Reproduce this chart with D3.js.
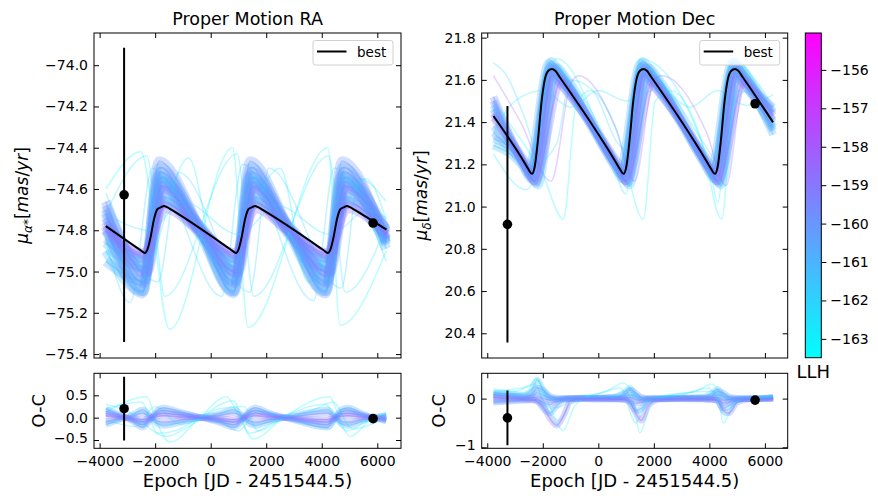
<!DOCTYPE html>
<html>
<head>
<meta charset="utf-8">
<script src="https://cdn.jsdelivr.net/npm/d3@7"></script>
<style>
  body { margin: 0; background: #fff; }
  svg { font-family: "DejaVu Sans", sans-serif; }
</style>
</head>
<body>
<div id="chart"></div>
<script>
// ---------------- data ----------------
const xTicks = [-4000, -2000, 0, 2000, 4000, 6000];
const raTicks = [-75.4, -75.2, -75.0, -74.8, -74.6, -74.4, -74.2, -74.0];
const decTicks = [20.4, 20.6, 20.8, 21.0, 21.2, 21.4, 21.6, 21.8];
const raResTicks = [-0.5, 0.0, 0.5];
const decResTicks = [-1, 0];
const llhTicks = [-163, -162, -161, -160, -159, -158, -157, -156];
const llhRange = [-163.49, -155.04];

// measured proper motions (epoch, value, error) and their O-C
const raObsEpoch = [-3119, 5849];
const raObs = [-74.628, -74.765];
const raObsErr = [0.713, 0.004];
const raObsRes = [0.20, -0.022];
const decObsEpoch = [-3273, 5647];
const decObs = [20.916, 21.487];
const decObsErr = [0.56, 0.004];
const decObsRes = [-0.395, -0.03];

// best fit orbit, [epoch, value]
const raBest = [[-3777,-74.78],[-2650,-74.885],[-2470,-74.902],[-2370,-74.91],[-2270,-74.89],[-2160,-74.83],[-2040,-74.745],[-1920,-74.698],[-1780,-74.688],[-1680,-74.682],[-1570,-74.688],[-1420,-74.70],
  [630,-74.885],[810,-74.902],[910,-74.91],[1010,-74.89],[1120,-74.83],[1240,-74.745],[1360,-74.698],[1500,-74.688],[1600,-74.682],[1710,-74.688],[1860,-74.70],
  [3940,-74.885],[4120,-74.902],[4220,-74.91],[4320,-74.89],[4430,-74.83],[4550,-74.745],[4670,-74.698],[4810,-74.688],[4910,-74.682],[5020,-74.688],[5170,-74.70],
  [6331,-74.797]];
const decBest = [[-3777,21.429],[-2690,21.215],[-2510,21.175],[-2390,21.155],[-2290,21.19],[-2170,21.32],[-2050,21.49],[-1930,21.60],[-1800,21.643],[-1670,21.652],[-1550,21.643],[-1400,21.615],
  [610,21.215],[790,21.175],[910,21.155],[1010,21.19],[1130,21.32],[1250,21.49],[1370,21.60],[1500,21.643],[1630,21.652],[1750,21.643],[1900,21.615],
  [3900,21.215],[4080,21.175],[4200,21.155],[4300,21.19],[4420,21.32],[4540,21.49],[4660,21.60],[4790,21.643],[4920,21.652],[5040,21.643],[5190,21.615],
  [6295,21.399]];

// posterior orbit samples, RA
const raCoreLLH = [-160.6, -159.8, -161.0, -159.3, -160.2, -161.2, -159.0, -161.4, -160.4, -160.8, -159.6, -160.9, -160.0, -158.6];
const raCore = [
  [[-3777,-74.72],[-2430,-75.096],[-1840,-74.496],[-400,-74.796],[850,-75.096],[1440,-74.496],[2800,-74.796],[4160,-75.096],[4750,-74.496],[6320,-74.86]],
  [[-3777,-74.70],[-2410,-75.056],[-1810,-74.516],[-400,-74.786],[870,-75.056],[1470,-74.516],[2800,-74.786],[4180,-75.056],[4780,-74.516],[6320,-74.84]],
  [[-3777,-74.80],[-2450,-75.046],[-1800,-74.566],[-400,-74.806],[830,-75.046],[1480,-74.566],[2800,-74.806],[4140,-75.046],[4790,-74.566],[6320,-74.86]],
  [[-3777,-74.76],[-2390,-75.006],[-1780,-74.586],[-400,-74.796],[890,-75.006],[1500,-74.586],[2800,-74.796],[4200,-75.006],[4810,-74.586],[6320,-74.84]],
  [[-3777,-74.74],[-2370,-74.956],[-1740,-74.596],[-400,-74.776],[910,-74.956],[1540,-74.596],[2800,-74.776],[4220,-74.956],[4850,-74.596],[6320,-74.81]],
  [[-3777,-74.86],[-2470,-74.976],[-1760,-74.656],[-400,-74.816],[810,-74.976],[1520,-74.656],[2800,-74.816],[4120,-74.976],[4830,-74.656],[6320,-74.85]],
  [[-3777,-74.80],[-2350,-74.926],[-1700,-74.666],[-400,-74.796],[930,-74.926],[1580,-74.666],[2800,-74.796],[4240,-74.926],[4890,-74.666],[6320,-74.82]],
  [[-3777,-74.90],[-2490,-75.096],[-1880,-74.536],[-400,-74.816],[790,-75.096],[1400,-74.536],[2800,-74.816],[4100,-75.096],[4710,-74.536],[6320,-74.89]],
  [[-3777,-74.68],[-2330,-75.001],[-1720,-74.561],[-400,-74.781],[950,-75.001],[1560,-74.561],[2800,-74.781],[4260,-75.001],[4870,-74.561],[6320,-74.80]],
  [[-3777,-74.95],[-2400,-75.046],[-1830,-74.546],[-400,-74.796],[880,-75.046],[1450,-74.546],[2800,-74.796],[4190,-75.046],[4760,-74.546],[6320,-74.85]],
  [[-3777,-74.66],[-2310,-75.006],[-1680,-74.606],[-400,-74.806],[970,-75.006],[1600,-74.606],[2800,-74.806],[4280,-75.006],[4910,-74.606],[6320,-74.80]],
  [[-3777,-74.84],[-2430,-74.936],[-1730,-74.636],[-400,-74.786],[850,-74.936],[1550,-74.636],[2800,-74.786],[4160,-74.936],[4860,-74.636],[6320,-74.79]],
  [[-3777,-74.78],[-2460,-75.106],[-1860,-74.466],[-400,-74.786],[820,-75.106],[1420,-74.466],[2800,-74.786],[4130,-75.106],[4730,-74.466],[6320,-74.87]],
  [[-3777,-74.78],[-2370,-74.912],[-1680,-74.692],[-400,-74.801],[910,-74.912],[1600,-74.692],[2800,-74.801],[4220,-74.912],[4910,-74.692],[6320,-74.82]]
];
const raOutLLH = [-163.3, -162.7, -162.2, -162.0, -162.5, -162.9];
const raOut = [
  [[-3777,-74.60],[-2520,-74.42],[-1480,-75.28],[780,-74.40],[1350,-75.27],[4220,-74.40],[4660,-75.26],[6320,-74.90]],
  [[-3777,-74.72],[-2300,-74.44],[-1650,-75.12],[950,-74.43],[1550,-75.12],[4250,-74.44],[4850,-75.10],[6320,-74.78]],
  [[-3777,-74.85],[-2900,-75.15],[-2100,-74.50],[400,-75.12],[1150,-74.48],[3700,-75.14],[4450,-74.50],[6320,-74.95]],
  [[-3777,-74.62],[-1900,-75.05],[-1150,-74.52],[1400,-75.10],[2100,-74.50],[4700,-75.08],[5350,-74.55],[6320,-74.66]],
  [[-3777,-74.72],[-2200,-74.80],[-1000,-74.66],[1000,-74.82],[2400,-74.68],[4300,-74.82],[5700,-74.70],[6320,-74.74]],
  [[-3777,-74.90],[-2450,-75.00],[-800,-74.45],[300,-75.00],[2500,-74.50],[3500,-75.05],[5600,-74.55],[6320,-74.75]]
];

// posterior orbit samples, Dec
const decCoreLLH = [-160.1, -160.7, -159.4, -161.1, -159.8, -159.2, -161.3, -161.6, -158.8, -160.4];
const decCore = [
  [[-3777,21.46],[-2690,21.20],[-2390,21.14],[-1670,21.67],[-1370,21.625],[610,21.20],[910,21.14],[1630,21.67],[1930,21.625],[3900,21.20],[4200,21.14],[4920,21.67],[5220,21.625],[6295,21.40]],
  [[-3777,21.38],[-2770,21.23],[-2470,21.17],[-1730,21.64],[-1430,21.595],[530,21.23],[830,21.17],[1570,21.64],[1870,21.595],[3820,21.23],[4120,21.17],[4860,21.64],[5160,21.595],[6295,21.37]],
  [[-3777,21.50],[-2610,21.18],[-2310,21.12],[-1610,21.66],[-1310,21.615],[690,21.18],[990,21.12],[1690,21.66],[1990,21.615],[3980,21.18],[4280,21.12],[4980,21.66],[5280,21.615],[6295,21.44]],
  [[-3777,21.32],[-2840,21.24],[-2540,21.18],[-1790,21.68],[-1490,21.635],[460,21.24],[760,21.18],[1510,21.68],[1810,21.635],[3750,21.24],[4050,21.18],[4800,21.68],[5100,21.635],[6295,21.34]],
  [[-3777,21.52],[-2540,21.17],[-2240,21.11],[-1550,21.63],[-1250,21.585],[760,21.17],[1060,21.11],[1750,21.63],[2050,21.585],[4050,21.17],[4350,21.11],[5040,21.63],[5340,21.585],[6295,21.47]],
  [[-3777,21.42],[-2650,21.22],[-2350,21.16],[-1650,21.62],[-1350,21.575],[650,21.22],[950,21.16],[1650,21.62],[1950,21.575],[3940,21.22],[4240,21.16],[4940,21.62],[5240,21.575],[6295,21.41]],
  [[-3777,21.29],[-2730,21.19],[-2430,21.13],[-1700,21.69],[-1400,21.645],[570,21.19],[870,21.13],[1600,21.69],[1900,21.645],[3860,21.19],[4160,21.13],[4890,21.69],[5190,21.645],[6295,21.38]],
  [[-3777,21.48],[-2470,21.16],[-2170,21.10],[-1470,21.66],[-1170,21.615],[830,21.16],[1130,21.10],[1830,21.66],[2130,21.615],[4120,21.16],[4420,21.10],[5120,21.66],[5420,21.615],[6295,21.45]],
  [[-3777,21.44],[-2590,21.18],[-2290,21.12],[-1320,21.60],[-1020,21.555],[710,21.18],[1010,21.12],[1980,21.60],[2280,21.555],[4000,21.18],[4300,21.12],[5270,21.60],[5570,21.555],[6295,21.43]],
  [[-3777,21.35],[-2790,21.21],[-2490,21.15],[-1750,21.66],[-1450,21.615],[510,21.21],[810,21.15],[1550,21.66],[1850,21.615],[3800,21.21],[4100,21.15],[4840,21.66],[5140,21.615],[6295,21.36]]
];
const decOutLLH = [-163.3, -162.6, -162.2, -158.2, -162.9];
const decOut = [
  [[-3777,21.50],[-2700,21.30],[-2000,21.15],[-1260,20.94],[-800,21.48],[-300,21.55],[700,21.35],[1619,20.94],[2050,21.50],[2600,21.55],[3700,21.32],[4438,20.94],[4850,21.48],[5400,21.55],[6295,21.45]],
  [[-3777,21.35],[-3000,21.50],[-2000,21.55],[-1000,21.47],[0,21.55],[1000,21.50],[2200,21.56],[3300,21.47],[4300,21.55],[5300,21.48],[6295,21.53]],
  [[-3777,21.68],[-3300,21.62],[-2600,21.40],[-2100,21.22],[-1500,21.30],[-1000,21.60],[-200,21.55],[700,21.30],[1300,21.25],[1900,21.62],[2800,21.50],[3800,21.30],[4400,21.20],[5000,21.55],[6295,21.45]],
  [[-3777,21.62],[-2800,21.40],[-1700,21.12],[-1000,21.58],[-700,21.62],[600,21.38],[1300,21.12],[2000,21.60],[2300,21.62],[3900,21.35],[4600,21.10],[5250,21.58],[6295,21.45]],
  [[-3777,21.25],[-2600,21.08],[-2200,21.20],[-1800,21.62],[-1500,21.70],[400,21.25],[1000,21.06],[1500,21.70],[4000,21.20],[4300,21.02],[4800,21.70],[6295,21.42]]
];

// O-C of the samples, RA (values at shared epochs)
const raResEpochs = [-3777, -3300, -2800, -2450, -2200, -1950, -1700, -1100, -350, 300, 850, 1100, 1350, 1600, 2100, 2650, 3300, 3900, 4200, 4450, 4700, 4950, 5400, 5850, 6320];
const raResLLH = [-160.5, -160.0, -159.3, -161.0, -159.7, -158.9];
const raRes = [
  [0.20, 0.07, -0.09, -0.22, -0.07, 0.15, 0.22, 0.13, 0, -0.11, -0.22, -0.09, 0.13, 0.22, 0.11, 0, -0.11, -0.20, -0.22, -0.04, 0.18, 0.22, 0.11, 0, -0.08],
  [0.14, 0.05, -0.06, -0.16, -0.05, 0.11, 0.16, 0.10, 0.01, -0.08, -0.16, -0.06, 0.10, 0.16, 0.08, 0.01, -0.08, -0.14, -0.16, -0.03, 0.13, 0.16, 0.08, 0.01, -0.06],
  [0.09, 0.03, -0.04, -0.10, -0.03, 0.07, 0.10, 0.06, 0, -0.05, -0.10, -0.04, 0.06, 0.10, 0.05, 0, -0.05, -0.09, -0.10, -0.02, 0.08, 0.10, 0.05, -0.01, -0.04],
  [-0.16, -0.05, 0.07, 0.18, 0.05, -0.13, -0.18, -0.11, 0, 0.09, 0.18, 0.07, -0.11, -0.18, -0.09, 0, 0.09, 0.16, 0.18, 0.04, -0.14, -0.18, -0.09, 0, 0.06],
  [-0.09, -0.03, 0.04, 0.10, 0.03, -0.07, -0.10, -0.06, 0, 0.05, 0.10, 0.04, -0.06, -0.10, -0.05, 0, 0.05, 0.09, 0.10, 0.02, -0.08, -0.10, -0.05, 0, 0.04],
  [0.04, 0.01, -0.02, -0.04, -0.01, 0.03, 0.04, 0.02, 0, -0.02, -0.04, -0.02, 0.02, 0.04, 0.02, 0, -0.02, -0.04, -0.04, -0.01, 0.03, 0.04, 0.02, 0, -0.01]
];
const raResOutLLH = [-163.3, -162.7, -162.2, -162.9];
const raResOut = [
  [[-3777,0.12],[-2300,0.47],[-1950,-0.10],[-1464,-0.55],[-400,0.0],[575,0.47],[1000,0.05],[1532,-0.48],[2611,0.0],[4291,0.47],[4650,-0.05],[5011,-0.42],[5849,0.0],[6320,0.08]],
  [[-3777,0.20],[-2500,0.35],[-1900,-0.35],[-1300,-0.30],[-300,0.05],[800,0.38],[1400,-0.35],[2600,0.02],[4100,0.30],[4900,-0.30],[5850,0.0],[6320,0.05]],
  [[-3777,-0.05],[-2700,-0.20],[-2000,0.25],[-1100,-0.15],[0,0.02],[1000,-0.30],[1700,0.15],[2700,0.0],[4300,-0.25],[4800,0.20],[5800,0.0],[6320,0.10]],
  [[-3777,0.30],[-3000,0.15],[-1600,-0.42],[-800,-0.20],[300,0.20],[1200,0.25],[1700,-0.30],[2600,-0.02],[3800,0.20],[4400,0.35],[5100,-0.25],[6320,0.02]]
];

// O-C of the samples, Dec
const decResEpochs = [-3777, -3200, -2700, -2400, -2200, -2000, -1750, -1500, -1250, -1000, -500, 200, 700, 950, 1150, 1350, 1550, 1800, 2200, 3000, 3800, 4100, 4300, 4500, 4700, 5000, 5500, 5850, 6295];
const decResLLH = [-160.1, -160.7, -158.9, -161.0, -159.8, -159.3, -161.5];
const decRes = [
  [0.08, 0.05, 0.03, 0.08, 0.22, 0.18, 0.06, 0.02, 0.01, 0.0, 0.01, 0.02, 0.03, 0.08, 0.18, 0.12, 0.03, 0.01, 0.0, 0.01, 0.02, 0.06, 0.15, 0.12, 0.04, 0.01, 0.0, 0.0, 0.02],
  [-0.06, -0.04, -0.02, -0.02, -0.05, -0.20, -0.30, -0.15, -0.04, -0.01, 0.0, -0.01, -0.01, -0.02, -0.10, -0.25, -0.20, -0.05, -0.01, 0.0, -0.01, -0.02, -0.05, -0.20, -0.15, -0.03, 0.0, 0.0, -0.01],
  [0.02, 0.0, -0.02, -0.03, -0.06, -0.15, -0.40, -0.55, -0.35, -0.05, 0.0, 0.0, -0.01, -0.02, -0.08, -0.30, -0.45, -0.15, -0.02, 0.0, -0.01, -0.02, -0.05, -0.25, -0.30, -0.08, -0.01, 0.0, 0.0],
  [0.12, 0.08, 0.04, 0.06, 0.12, 0.08, 0.02, 0.0, 0.0, 0.01, 0.02, 0.02, 0.02, 0.04, 0.08, 0.06, 0.02, 0.0, 0.01, 0.02, 0.02, 0.03, 0.08, 0.06, 0.02, 0.0, 0.0, 0.01, 0.03],
  [-0.08, -0.06, -0.04, -0.03, -0.03, -0.08, -0.12, -0.06, -0.02, 0.0, -0.01, -0.02, -0.02, -0.02, -0.05, -0.10, -0.08, -0.02, -0.01, -0.01, -0.02, -0.02, -0.03, -0.10, -0.08, -0.02, 0.0, 0.0, 0.01],
  [0.03, 0.02, 0.01, 0.02, 0.04, 0.0, -0.03, -0.02, 0.0, 0.01, 0.01, 0.01, 0.0, 0.01, 0.03, -0.02, -0.03, 0.0, 0.0, 0.01, 0.01, 0.01, 0.03, -0.03, -0.02, 0.0, 0.0, 0.0, 0.02],
  [0.10, 0.10, 0.08, 0.18, 0.38, 0.20, 0.02, -0.02, 0.0, 0.01, 0.02, 0.02, 0.05, 0.14, 0.22, 0.05, -0.02, 0.0, 0.01, 0.02, 0.04, 0.12, 0.20, 0.05, -0.01, 0.0, 0.01, 0.0, 0.04]
];
const decResOutLLH = [-163.3, -162.6, -162.1];
const decResOut = [
  [[-3777,0.15],[-3000,0.20],[-2500,0.25],[-2216,0.42],[-1900,0.05],[-1259,-0.65],[-900,-0.20],[-500,0.02],[300,0.15],[900,0.32],[1200,0.10],[1500,-0.70],[1900,-0.10],[2500,0.05],[3500,0.15],[4100,0.30],[4300,0.15],[4500,-0.50],[4900,-0.10],[5500,0.0],[6295,0.05]],
  [[-3777,0.20],[-3000,0.15],[-2300,0.30],[-2000,-0.05],[-1400,-0.45],[-1000,-0.10],[0,0.10],[800,0.22],[1350,-0.50],[1800,0.0],[3000,0.08],[4000,0.22],[4550,-0.35],[5200,0.0],[6295,0.05]],
  [[-3777,0.08],[-2600,0.12],[-2250,0.25],[-1800,-0.20],[-1300,-0.15],[-800,0.02],[400,0.05],[1000,0.15],[1450,-0.30],[2000,0.02],[4150,0.15],[4550,-0.25],[5200,0.0],[6295,0.03]]
];

// ---------------- drawing ----------------
const width = 878, height = 500;
const svg = d3.select('#chart').append('svg')
  .attr('width', width)
  .attr('height', height);

// matplotlib "cool" colormap
const llhColor = d3.scaleLinear().domain(llhRange).range(['#00ffff', '#ff00ff']);

const fmtInt = d3.format('d');
const fmt1 = d3.format('.1f');

function drawPanel(p) {
  const x = d3.scaleLinear().domain(p.xDomain).range([p.left, p.right]);
  const y = d3.scaleLinear().domain(p.yDomain).range([p.bottom, p.top]);
  const g = svg.append('g');

  g.append('clipPath').attr('id', p.id + '-clip')
    .append('rect')
    .attr('x', p.left).attr('y', p.top)
    .attr('width', p.right - p.left).attr('height', p.bottom - p.top);

  const plot = g.append('g').attr('clip-path', `url(#${p.id}-clip)`);
  const line = d3.line()
    .x(d => x(d[0]))
    .y(d => y(d[1]))
    .curve(d3.curveMonotoneX);

  // samples: wide faint pass for the dense core, then thin lines, low likelihood first
  const samples = p.samples.slice().sort((a, b) => a.llh - b.llh);
  plot.selectAll('.halo')
    .data(samples.filter(d => d.core))
    .enter().append('path')
    .attr('class', 'halo')
    .attr('d', d => line(d.pts))
    .attr('fill', 'none')
    .attr('stroke', d => llhColor(d.llh))
    .attr('stroke-linejoin', 'round')
    .attr('stroke-width', p.coreWidth)
    .attr('stroke-opacity', 0.3);
  plot.selectAll('.sample')
    .data(samples)
    .enter().append('path')
    .attr('class', 'sample')
    .attr('d', d => line(d.pts))
    .attr('fill', 'none')
    .attr('stroke', d => llhColor(d.llh))
    .attr('stroke-width', 1.5)
    .attr('stroke-opacity', d => d.core ? 0.4 : 0.28);

  if (p.best) {
    plot.append('path')
      .attr('d', line(p.best))
      .attr('fill', 'none')
      .attr('stroke', '#000')
      .attr('stroke-width', 2);
  }

  // data points with error bars
  const obs = p.obsEpoch.map((e, i) => ({ e: e, v: p.obs[i], err: p.obsErr[i] }));
  plot.selectAll('.ebar')
    .data(obs)
    .enter().append('line')
    .attr('class', 'ebar')
    .attr('x1', d => x(d.e)).attr('x2', d => x(d.e))
    .attr('y1', d => y(d.v - d.err)).attr('y2', d => y(d.v + d.err))
    .attr('stroke', '#000')
    .attr('stroke-width', 2);
  plot.selectAll('.dot')
    .data(obs)
    .enter().append('circle')
    .attr('class', 'dot')
    .attr('cx', d => x(d.e)).attr('cy', d => y(d.v))
    .attr('r', 4.8)
    .attr('fill', '#000');

  // axes, ticks pointing in on all four sides
  const ax = (sel) => sel.attr('font-size', 14).attr('font-family', '"DejaVu Sans", sans-serif')
    .call(s => s.select('.domain').remove())
    .call(s => s.selectAll('line').attr('stroke-width', 1));

  g.append('g')
    .attr('transform', `translate(0,${p.bottom})`)
    .call(d3.axisBottom(x).tickValues(xTicks).tickSize(-5).tickPadding(8)
      .tickFormat(p.xLabels ? fmtInt : () => ''))
    .call(ax);
  g.append('g')
    .attr('transform', `translate(0,${p.top})`)
    .call(d3.axisTop(x).tickValues(xTicks).tickSize(-5).tickFormat(() => ''))
    .call(ax);
  const yAxis = g.append('g')
    .attr('transform', `translate(${p.left},0)`)
    .call(d3.axisLeft(y).tickValues(p.yTicks).tickSize(-5).tickPadding(6).tickFormat(p.yFormat))
    .call(ax);
  // lowest label sits right above the x tick labels in the small panels
  if (p.xLabels) {
    yAxis.selectAll('.tick text').filter(d => d === p.yTicks[0]).attr('dy', '0.18em');
  }
  g.append('g')
    .attr('transform', `translate(${p.right},0)`)
    .call(d3.axisRight(y).tickValues(p.yTicks).tickSize(-5).tickFormat(() => ''))
    .call(ax);

  g.append('rect')
    .attr('x', p.left).attr('y', p.top)
    .attr('width', p.right - p.left).attr('height', p.bottom - p.top)
    .attr('fill', 'none')
    .attr('stroke', '#000')
    .attr('stroke-width', 1);

  // legend
  if (p.legend) {
    const lx = p.right - 88, ly = p.top + 7.5;
    g.append('rect')
      .attr('x', lx).attr('y', ly)
      .attr('width', 80).attr('height', 24.5)
      .attr('rx', 2.5)
      .attr('fill', '#fff').attr('fill-opacity', 0.8)
      .attr('stroke', '#d0d0d0');
    g.append('line')
      .attr('x1', lx + 4).attr('x2', lx + 33.5)
      .attr('y1', ly + 11).attr('y2', ly + 11)
      .attr('stroke', '#000').attr('stroke-width', 2);
    g.append('text')
      .attr('x', lx + 44).attr('y', ly + 16)
      .attr('font-size', 13.5)
      .text('best');
  }

  // title
  if (p.title) {
    svg.append('text')
      .attr('x', (p.left + p.right) / 2).attr('y', 25)
      .attr('text-anchor', 'middle')
      .attr('font-size', 17.5)
      .text(p.title);
  }
  return { x: x, y: y };
}

function samplesOf(curves, llh, core) {
  return curves.map((pts, i) => ({ pts: pts, llh: llh[i], core: core }));
}
function residualsOf(epochs, rows, llh) {
  return rows.map((vals, i) => ({ pts: epochs.map((e, j) => [e, vals[j]]), llh: llh[i], core: true }));
}

const raX = [-4203, 6854];
const decX = [-4200, 6821];

drawPanel({
  id: 'ra', title: 'Proper Motion RA',
  left: 94, right: 401, top: 33, bottom: 358,
  xDomain: raX, yDomain: [-75.419, -73.844], yTicks: raTicks, yFormat: fmt1,
  samples: samplesOf(raOut, raOutLLH, false).concat(samplesOf(raCore, raCoreLLH, true)),
  coreWidth: 10,
  best: raBest, obsEpoch: raObsEpoch, obs: raObs, obsErr: raObsErr, legend: true
});
drawPanel({
  id: 'dec', title: 'Proper Motion Dec',
  left: 481.7, right: 787.7, top: 33, bottom: 358,
  xDomain: decX, yDomain: [20.283, 21.822], yTicks: decTicks, yFormat: fmt1,
  samples: samplesOf(decOut, decOutLLH, false).concat(samplesOf(decCore, decCoreLLH, true)),
  coreWidth: 8,
  best: decBest, obsEpoch: decObsEpoch, obs: decObs, obsErr: decObsErr, legend: true
});
drawPanel({
  id: 'rares',
  left: 94, right: 401, top: 373.3, bottom: 448.3,
  xDomain: raX, yDomain: [-0.686, 0.993], yTicks: raResTicks, yFormat: fmt1,
  samples: samplesOf(raResOut, raResOutLLH, false).concat(residualsOf(raResEpochs, raRes, raResLLH)),
  coreWidth: 6,
  obsEpoch: raObsEpoch, obs: raObsRes, obsErr: raObsErr, xLabels: true
});
drawPanel({
  id: 'decres',
  left: 481.7, right: 787.7, top: 373.3, bottom: 448.3,
  xDomain: decX, yDomain: [-1.02, 0.52], yTicks: decResTicks, yFormat: fmtInt,
  samples: samplesOf(decResOut, decResOutLLH, false).concat(residualsOf(decResEpochs, decRes, decResLLH)),
  coreWidth: 6,
  obsEpoch: decObsEpoch, obs: decObsRes, obsErr: decObsErr, xLabels: true
});

// y axis labels (mathtext style)
function muLabel(cx, cy, sub) {
  const t = svg.append('text')
    .attr('transform', `translate(${cx},${cy}) rotate(-90)`)
    .attr('text-anchor', 'middle')
    .attr('font-size', 17);
  t.append('tspan').attr('font-style', 'italic').text('μ');
  t.append('tspan').attr('font-style', 'italic').attr('font-size', 12).attr('dy', 4).text(sub);
  t.append('tspan').attr('dy', -4).text('[');
  t.append('tspan').attr('font-style', 'italic').text('mas');
  t.append('tspan').text('/');
  t.append('tspan').attr('font-style', 'italic').text('yr');
  t.append('tspan').text(']');
}
muLabel(28, 195.5, 'α*');
muLabel(427, 195.5, 'δ');

[[45, 94], [445, 481.7]].forEach(d => {
  svg.append('text')
    .attr('transform', `translate(${d[0]},410.8) rotate(-90)`)
    .attr('text-anchor', 'middle')
    .attr('font-size', 18)
    .text('O-C');
});

[247.5, 634.7].forEach(cx => {
  svg.append('text')
    .attr('x', cx).attr('y', 487)
    .attr('text-anchor', 'middle')
    .attr('font-size', 18)
    .text('Epoch [JD - 2451544.5)');
});

// colorbar
const cb = { left: 805.3, right: 821.3, top: 33, bottom: 357.7 };
const grad = svg.append('defs').append('linearGradient')
  .attr('id', 'cool').attr('x1', 0).attr('y1', 1).attr('x2', 0).attr('y2', 0);
grad.append('stop').attr('offset', '0%').attr('stop-color', llhColor(llhRange[0]));
grad.append('stop').attr('offset', '100%').attr('stop-color', llhColor(llhRange[1]));
svg.append('rect')
  .attr('x', cb.left).attr('y', cb.top)
  .attr('width', cb.right - cb.left).attr('height', cb.bottom - cb.top)
  .attr('fill', 'url(#cool)')
  .attr('stroke', '#000').attr('stroke-width', 1);
const cScale = d3.scaleLinear().domain(llhRange).range([cb.bottom, cb.top]);
svg.append('g')
  .attr('transform', `translate(${cb.right},0)`)
  .call(d3.axisRight(cScale).tickValues(llhTicks).tickSize(5).tickPadding(4).tickFormat(fmtInt))
  .attr('font-size', 14).attr('font-family', '"DejaVu Sans", sans-serif')
  .call(s => s.select('.domain').remove());
svg.append('text')
  .attr('x', 813.3).attr('y', 378)
  .attr('text-anchor', 'middle')
  .attr('font-size', 18)
  .text('LLH');
</script>
</body>
</html>
